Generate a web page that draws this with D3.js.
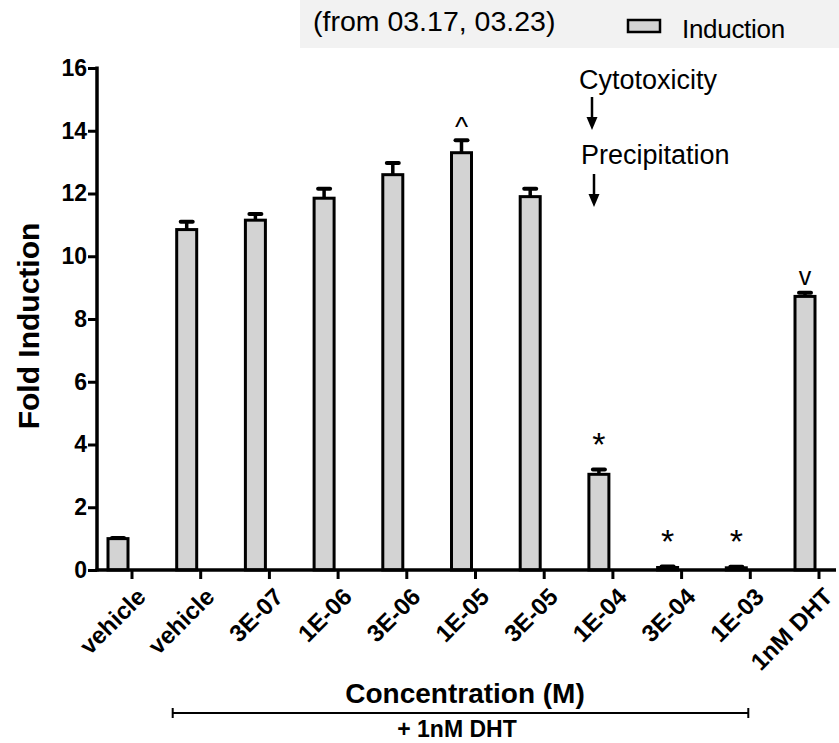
<!DOCTYPE html>
<html><head><meta charset="utf-8">
<script src="https://cdn.jsdelivr.net/npm/d3@7"></script>
<style>body{margin:0;background:#fff}svg{display:block;font-family:"Liberation Sans",Arial,sans-serif}</style>
</head><body>
<svg id="c" width="839" height="743"></svg>
<script>
const categories = ["vehicle","vehicle","3E-07","1E-06","3E-06","1E-05","3E-05","1E-04","3E-04","1E-03","1nM DHT"];
const values = [1.0, 10.85, 11.15, 11.85, 12.6, 13.3, 11.9, 3.05, 0.08, 0.07, 8.72];
const errors = [0.02, 0.25, 0.2, 0.3, 0.37, 0.4, 0.25, 0.15, 0.03, 0.03, 0.12];
const marks = ["", "", "", "", "", "^", "", "*", "*", "*", "v"];
const yTicks = [0,2,4,6,8,10,12,14,16];

const svg = d3.select("#c");
const idx = categories.map((d,i)=>i);
const x = d3.scalePoint().domain(idx).range([118, 805]);
const xt = d3.scalePoint().domain(idx).range([131.5, 818.5]);
const y = d3.scaleLinear().domain([0,16]).range([570, 68]);
const bw = 20;
const FF = "Liberation Sans, Arial, sans-serif";

// title box
svg.append("rect").attr("x",300).attr("y",0).attr("width",539).attr("height",48).attr("fill","#f2f2f2");
svg.append("text").attr("x",313).attr("y",31).attr("font-size",28.5).text("(from 03.17, 03.23)");
svg.append("rect").attr("x",628).attr("y",20).attr("width",32).attr("height",12).attr("fill","#d3d3d3").attr("stroke","#000").attr("stroke-width",2.5);
svg.append("text").attr("x",682).attr("y",38).attr("font-size",26).attr("letter-spacing",-0.3).text("Induction");

// bars
svg.selectAll("rect.bar").data(values).join("rect").attr("class","bar")
  .attr("x",(d,i)=>x(i)-bw/2).attr("width",bw)
  .attr("y",d=>y(d)).attr("height",d=>y(0)-y(d))
  .attr("fill","#d3d3d3").attr("stroke","#000").attr("stroke-width",3);
// error bars
const eg = svg.append("g").attr("stroke","#000");
values.forEach((v,i)=>{
  eg.append("line").attr("x1",x(i)).attr("x2",x(i)).attr("y1",y(v)).attr("y2",y(v+errors[i])).attr("stroke-width",3.5);
  eg.append("line").attr("x1",x(i)-6).attr("x2",x(i)+6).attr("y1",y(v+errors[i])).attr("y2",y(v+errors[i]))
    .attr("stroke-width",4).attr("stroke-linecap","round");
});
// significance marks
const mkSize = {"*":34, "^":28, "v":25};
const mkOff = {"*":14, "^":4, "v":8};
svg.selectAll("text.mk").data(values).join("text").attr("class","mk")
  .attr("x",(d,i)=>x(i)).attr("y",(d,i)=> marks[i] ? y(d+errors[i]) - mkOff[marks[i]] : 0)
  .attr("text-anchor","middle").attr("font-size",(d,i)=>mkSize[marks[i]]||10)
  .text((d,i)=>marks[i]);

// y axis
const ya = svg.append("g").attr("transform","translate(97,0)")
  .call(d3.axisLeft(y).tickValues(yTicks).tickSize(9).tickPadding(1));
ya.select(".domain").attr("stroke-width",3.5).attr("d","M0,"+(y(16)-1.5)+"V"+(y(0)+1.5));
ya.selectAll(".tick line").attr("stroke-width",3);
ya.selectAll(".tick text").attr("font-size",23).attr("font-weight","bold").attr("font-family",FF);

// x axis
const xa = svg.append("g").attr("transform","translate(0,570)")
  .call(d3.axisBottom(xt).tickSize(9).tickFormat(i=>categories[i]));
xa.select(".domain").attr("stroke-width",3.5).attr("d","M95.5,0H836");
xa.selectAll(".tick line").attr("stroke-width",3);
xa.selectAll(".tick text").attr("font-size",24).attr("font-weight","bold").attr("font-family",FF)
  .attr("text-anchor","end").attr("y",0).attr("dy","0.72em")
  .attr("transform","translate(3,16) rotate(-45)");

// axis titles
svg.append("text").attr("transform","translate(39,326) rotate(-90)").attr("text-anchor","middle")
  .attr("font-size",30).attr("font-weight","bold").text("Fold Induction");
svg.append("text").attr("x",465).attr("y",703).attr("text-anchor","middle")
  .attr("font-size",28).attr("font-weight","bold").text("Concentration (M)");
// bracket
const bx1 = x(1)-14, bx2 = x(9)+12;
svg.append("path").attr("d",`M${bx1},708V718M${bx1},713H${bx2}M${bx2},708V718`).attr("fill","none").attr("stroke","#000").attr("stroke-width",2);
svg.append("text").attr("x",457).attr("y",737).attr("text-anchor","middle")
  .attr("font-size",23).attr("font-weight","bold").text("+ 1nM DHT");

// annotations
function arrow(xp, y1, y2){
  svg.append("line").attr("x1",xp).attr("x2",xp).attr("y1",y1).attr("y2",y2-10).attr("stroke","#000").attr("stroke-width",2.5);
  svg.append("path").attr("d",`M${xp-5.5},${y2-13}L${xp+5.5},${y2-13}L${xp},${y2}Z`).attr("fill","#000");
}
svg.append("text").attr("x",579).attr("y",89).attr("font-size",27).text("Cytotoxicity");
arrow(592, 97, 130);
svg.append("text").attr("x",581).attr("y",164).attr("font-size",27).text("Precipitation");
arrow(594, 174, 207);
</script>
</body></html>
